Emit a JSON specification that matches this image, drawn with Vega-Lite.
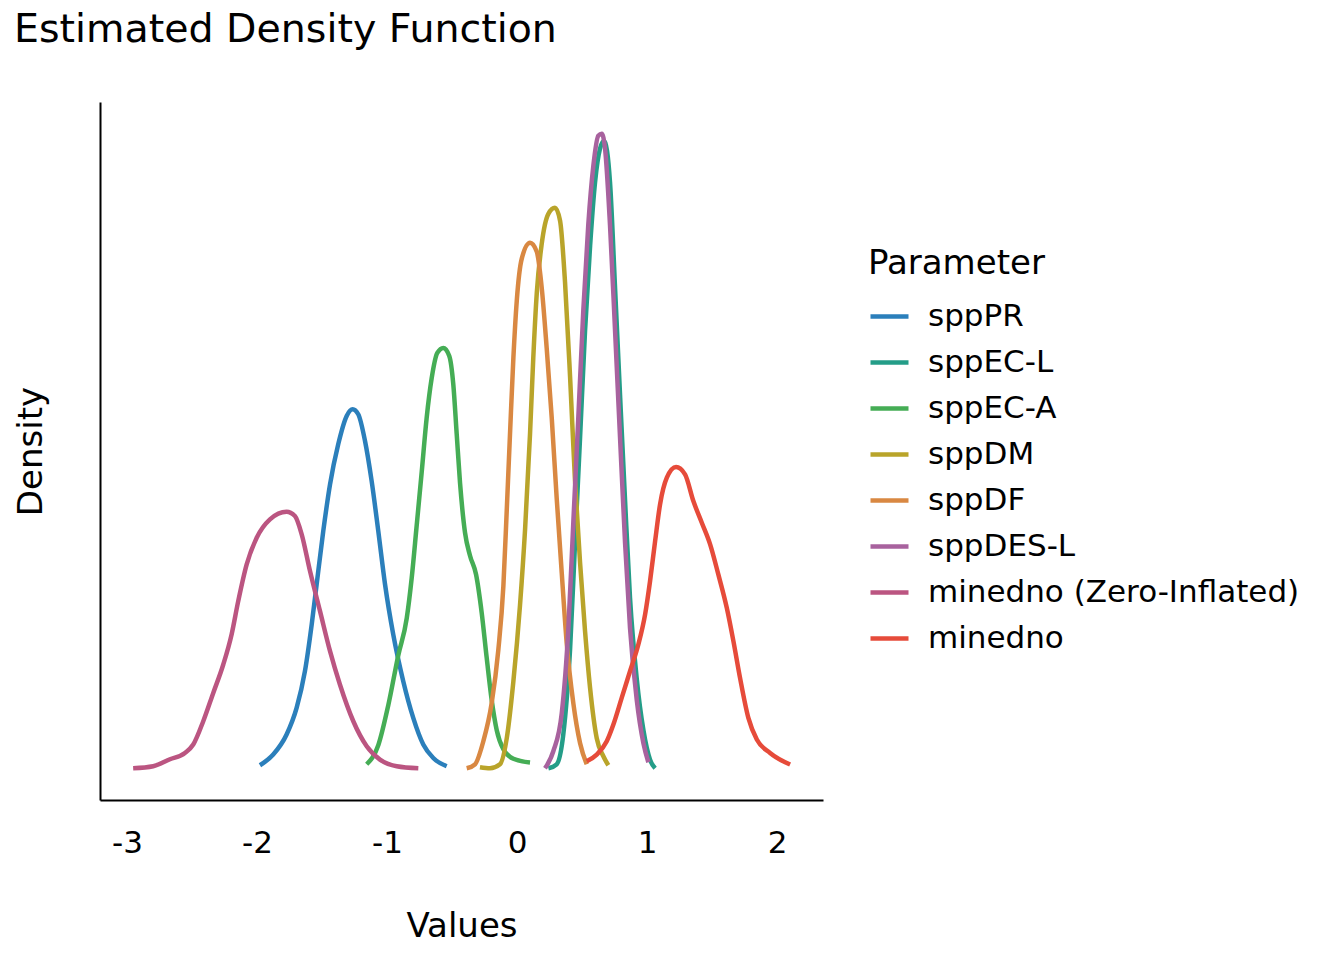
{
  "$schema": "https://vega.github.io/schema/vega-lite/v6.json",
  "width": 723,
  "height": 698,
  "autosize": "none",
  "padding": {"left": 100, "top": 102, "right": 521, "bottom": 160},
  "background": "white",
  "config": {"font": "DejaVu Sans", "view": {"stroke": null}},
  "title": {
    "text": "Estimated Density Function",
    "anchor": "start",
    "frame": "group",
    "dx": -86,
    "offset": 52,
    "fontSize": 39.5,
    "fontWeight": "normal",
    "color": "black"
  },
  "datasets": {
    "curves": [
      {"Parameter": "sppPR", "Values": -1.977, "Density": 0.03},
      {"Parameter": "sppPR", "Values": -1.875, "Density": 0.137},
      {"Parameter": "sppPR", "Values": -1.772, "Density": 0.337},
      {"Parameter": "sppPR", "Values": -1.695, "Density": 0.603},
      {"Parameter": "sppPR", "Values": -1.631, "Density": 0.97},
      {"Parameter": "sppPR", "Values": -1.579, "Density": 1.437},
      {"Parameter": "sppPR", "Values": -1.541, "Density": 1.837},
      {"Parameter": "sppPR", "Values": -1.49, "Density": 2.37},
      {"Parameter": "sppPR", "Values": -1.438, "Density": 2.837},
      {"Parameter": "sppPR", "Values": -1.375, "Density": 3.237},
      {"Parameter": "sppPR", "Values": -1.31, "Density": 3.52},
      {"Parameter": "sppPR", "Values": -1.264, "Density": 3.587},
      {"Parameter": "sppPR", "Values": -1.221, "Density": 3.537},
      {"Parameter": "sppPR", "Values": -1.169, "Density": 3.27},
      {"Parameter": "sppPR", "Values": -1.118, "Density": 2.87},
      {"Parameter": "sppPR", "Values": -1.067, "Density": 2.37},
      {"Parameter": "sppPR", "Values": -1.015, "Density": 1.837},
      {"Parameter": "sppPR", "Values": -0.952, "Density": 1.337},
      {"Parameter": "sppPR", "Values": -0.875, "Density": 0.87},
      {"Parameter": "sppPR", "Values": -0.798, "Density": 0.503},
      {"Parameter": "sppPR", "Values": -0.721, "Density": 0.237},
      {"Parameter": "sppPR", "Values": -0.644, "Density": 0.103},
      {"Parameter": "sppPR", "Values": -0.541, "Density": 0.02},

      {"Parameter": "sppEC-L", "Values": 0.241, "Density": 0.0},
      {"Parameter": "sppEC-L", "Values": 0.305, "Density": 0.04},
      {"Parameter": "sppEC-L", "Values": 0.356, "Density": 0.34},
      {"Parameter": "sppEC-L", "Values": 0.408, "Density": 1.19},
      {"Parameter": "sppEC-L", "Values": 0.446, "Density": 2.25},
      {"Parameter": "sppEC-L", "Values": 0.485, "Density": 3.31},
      {"Parameter": "sppEC-L", "Values": 0.523, "Density": 4.37},
      {"Parameter": "sppEC-L", "Values": 0.562, "Density": 5.22},
      {"Parameter": "sppEC-L", "Values": 0.6, "Density": 5.855},
      {"Parameter": "sppEC-L", "Values": 0.638, "Density": 6.19},
      {"Parameter": "sppEC-L", "Values": 0.67, "Density": 6.27},
      {"Parameter": "sppEC-L", "Values": 0.715, "Density": 5.855},
      {"Parameter": "sppEC-L", "Values": 0.754, "Density": 4.796},
      {"Parameter": "sppEC-L", "Values": 0.792, "Density": 3.735},
      {"Parameter": "sppEC-L", "Values": 0.831, "Density": 2.67},
      {"Parameter": "sppEC-L", "Values": 0.869, "Density": 1.7},
      {"Parameter": "sppEC-L", "Values": 0.921, "Density": 0.89},
      {"Parameter": "sppEC-L", "Values": 0.972, "Density": 0.38},
      {"Parameter": "sppEC-L", "Values": 1.023, "Density": 0.085},
      {"Parameter": "sppEC-L", "Values": 1.062, "Density": 0.0},

      {"Parameter": "sppEC-A", "Values": -1.156, "Density": 0.04},
      {"Parameter": "sppEC-A", "Values": -1.067, "Density": 0.23},
      {"Parameter": "sppEC-A", "Values": -0.99, "Density": 0.63},
      {"Parameter": "sppEC-A", "Values": -0.913, "Density": 1.13},
      {"Parameter": "sppEC-A", "Values": -0.848, "Density": 1.5},
      {"Parameter": "sppEC-A", "Values": -0.81, "Density": 1.9},
      {"Parameter": "sppEC-A", "Values": -0.772, "Density": 2.42},
      {"Parameter": "sppEC-A", "Values": -0.733, "Density": 2.96},
      {"Parameter": "sppEC-A", "Values": -0.695, "Density": 3.5},
      {"Parameter": "sppEC-A", "Values": -0.656, "Density": 3.9},
      {"Parameter": "sppEC-A", "Values": -0.613, "Density": 4.15},
      {"Parameter": "sppEC-A", "Values": -0.567, "Density": 4.2},
      {"Parameter": "sppEC-A", "Values": -0.521, "Density": 4.12},
      {"Parameter": "sppEC-A", "Values": -0.49, "Density": 3.834},
      {"Parameter": "sppEC-A", "Values": -0.464, "Density": 3.341},
      {"Parameter": "sppEC-A", "Values": -0.438, "Density": 2.847},
      {"Parameter": "sppEC-A", "Values": -0.4, "Density": 2.354},
      {"Parameter": "sppEC-A", "Values": -0.362, "Density": 2.126},
      {"Parameter": "sppEC-A", "Values": -0.315, "Density": 1.936},
      {"Parameter": "sppEC-A", "Values": -0.272, "Density": 1.557},
      {"Parameter": "sppEC-A", "Values": -0.233, "Density": 1.101},
      {"Parameter": "sppEC-A", "Values": -0.195, "Density": 0.683},
      {"Parameter": "sppEC-A", "Values": -0.156, "Density": 0.38},
      {"Parameter": "sppEC-A", "Values": -0.105, "Density": 0.19},
      {"Parameter": "sppEC-A", "Values": -0.028, "Density": 0.095},
      {"Parameter": "sppEC-A", "Values": 0.1, "Density": 0.057},

      {"Parameter": "sppDM", "Values": -0.285, "Density": 0.01},
      {"Parameter": "sppDM", "Values": -0.208, "Density": 0.0},
      {"Parameter": "sppDM", "Values": -0.131, "Density": 0.04},
      {"Parameter": "sppDM", "Values": -0.079, "Density": 0.3},
      {"Parameter": "sppDM", "Values": -0.028, "Density": 0.87},
      {"Parameter": "sppDM", "Values": 0.023, "Density": 1.63},
      {"Parameter": "sppDM", "Values": 0.062, "Density": 2.39},
      {"Parameter": "sppDM", "Values": 0.1, "Density": 3.34},
      {"Parameter": "sppDM", "Values": 0.125, "Density": 4.1},
      {"Parameter": "sppDM", "Values": 0.152, "Density": 4.75},
      {"Parameter": "sppDM", "Values": 0.19, "Density": 5.24},
      {"Parameter": "sppDM", "Values": 0.241, "Density": 5.54},
      {"Parameter": "sppDM", "Values": 0.292, "Density": 5.6},
      {"Parameter": "sppDM", "Values": 0.331, "Density": 5.47},
      {"Parameter": "sppDM", "Values": 0.369, "Density": 4.86},
      {"Parameter": "sppDM", "Values": 0.408, "Density": 3.91},
      {"Parameter": "sppDM", "Values": 0.446, "Density": 2.87},
      {"Parameter": "sppDM", "Values": 0.485, "Density": 2.05},
      {"Parameter": "sppDM", "Values": 0.523, "Density": 1.37},
      {"Parameter": "sppDM", "Values": 0.562, "Density": 0.8},
      {"Parameter": "sppDM", "Values": 0.613, "Density": 0.3},
      {"Parameter": "sppDM", "Values": 0.664, "Density": 0.12},
      {"Parameter": "sppDM", "Values": 0.702, "Density": 0.03},

      {"Parameter": "sppDF", "Values": -0.387, "Density": 0.0},
      {"Parameter": "sppDF", "Values": -0.323, "Density": 0.04},
      {"Parameter": "sppDF", "Values": -0.259, "Density": 0.27},
      {"Parameter": "sppDF", "Values": -0.195, "Density": 0.65},
      {"Parameter": "sppDF", "Values": -0.144, "Density": 1.18},
      {"Parameter": "sppDF", "Values": -0.105, "Density": 1.82},
      {"Parameter": "sppDF", "Values": -0.079, "Density": 2.58},
      {"Parameter": "sppDF", "Values": -0.054, "Density": 3.34},
      {"Parameter": "sppDF", "Values": -0.028, "Density": 4.1},
      {"Parameter": "sppDF", "Values": -0.002, "Density": 4.67},
      {"Parameter": "sppDF", "Values": 0.036, "Density": 5.09},
      {"Parameter": "sppDF", "Values": 0.1, "Density": 5.25},
      {"Parameter": "sppDF", "Values": 0.152, "Density": 5.16},
      {"Parameter": "sppDF", "Values": 0.19, "Density": 4.8},
      {"Parameter": "sppDF", "Values": 0.228, "Density": 4.2},
      {"Parameter": "sppDF", "Values": 0.267, "Density": 3.5},
      {"Parameter": "sppDF", "Values": 0.305, "Density": 2.7},
      {"Parameter": "sppDF", "Values": 0.344, "Density": 1.95},
      {"Parameter": "sppDF", "Values": 0.382, "Density": 1.25},
      {"Parameter": "sppDF", "Values": 0.433, "Density": 0.65},
      {"Parameter": "sppDF", "Values": 0.485, "Density": 0.25},
      {"Parameter": "sppDF", "Values": 0.536, "Density": 0.04},

      {"Parameter": "sppDES-L", "Values": 0.215, "Density": 0.0},
      {"Parameter": "sppDES-L", "Values": 0.279, "Density": 0.17},
      {"Parameter": "sppDES-L", "Values": 0.344, "Density": 0.55},
      {"Parameter": "sppDES-L", "Values": 0.395, "Density": 1.4},
      {"Parameter": "sppDES-L", "Values": 0.433, "Density": 2.46},
      {"Parameter": "sppDES-L", "Values": 0.472, "Density": 3.52},
      {"Parameter": "sppDES-L", "Values": 0.51, "Density": 4.58},
      {"Parameter": "sppDES-L", "Values": 0.548, "Density": 5.43},
      {"Parameter": "sppDES-L", "Values": 0.587, "Density": 6.02},
      {"Parameter": "sppDES-L", "Values": 0.625, "Density": 6.32},
      {"Parameter": "sppDES-L", "Values": 0.652, "Density": 6.34},
      {"Parameter": "sppDES-L", "Values": 0.677, "Density": 6.19},
      {"Parameter": "sppDES-L", "Values": 0.715, "Density": 5.43},
      {"Parameter": "sppDES-L", "Values": 0.754, "Density": 4.37},
      {"Parameter": "sppDES-L", "Values": 0.792, "Density": 3.31},
      {"Parameter": "sppDES-L", "Values": 0.831, "Density": 2.25},
      {"Parameter": "sppDES-L", "Values": 0.869, "Density": 1.4},
      {"Parameter": "sppDES-L", "Values": 0.921, "Density": 0.68},
      {"Parameter": "sppDES-L", "Values": 0.972, "Density": 0.25},
      {"Parameter": "sppDES-L", "Values": 1.01, "Density": 0.06},

      {"Parameter": "minedno (Zero-Inflated)", "Values": -2.952, "Density": 0.0},
      {"Parameter": "minedno (Zero-Inflated)", "Values": -2.798, "Density": 0.02},
      {"Parameter": "minedno (Zero-Inflated)", "Values": -2.669, "Density": 0.09},
      {"Parameter": "minedno (Zero-Inflated)", "Values": -2.554, "Density": 0.153},
      {"Parameter": "minedno (Zero-Inflated)", "Values": -2.49, "Density": 0.237},
      {"Parameter": "minedno (Zero-Inflated)", "Values": -2.413, "Density": 0.47},
      {"Parameter": "minedno (Zero-Inflated)", "Values": -2.336, "Density": 0.753},
      {"Parameter": "minedno (Zero-Inflated)", "Values": -2.259, "Density": 1.037},
      {"Parameter": "minedno (Zero-Inflated)", "Values": -2.195, "Density": 1.337},
      {"Parameter": "minedno (Zero-Inflated)", "Values": -2.144, "Density": 1.67},
      {"Parameter": "minedno (Zero-Inflated)", "Values": -2.079, "Density": 2.037},
      {"Parameter": "minedno (Zero-Inflated)", "Values": -2.002, "Density": 2.303},
      {"Parameter": "minedno (Zero-Inflated)", "Values": -1.9, "Density": 2.487},
      {"Parameter": "minedno (Zero-Inflated)", "Values": -1.772, "Density": 2.563},
      {"Parameter": "minedno (Zero-Inflated)", "Values": -1.708, "Density": 2.52},
      {"Parameter": "minedno (Zero-Inflated)", "Values": -1.656, "Density": 2.337},
      {"Parameter": "minedno (Zero-Inflated)", "Values": -1.592, "Density": 1.97},
      {"Parameter": "minedno (Zero-Inflated)", "Values": -1.515, "Density": 1.57},
      {"Parameter": "minedno (Zero-Inflated)", "Values": -1.438, "Density": 1.17},
      {"Parameter": "minedno (Zero-Inflated)", "Values": -1.362, "Density": 0.837},
      {"Parameter": "minedno (Zero-Inflated)", "Values": -1.259, "Density": 0.47},
      {"Parameter": "minedno (Zero-Inflated)", "Values": -1.156, "Density": 0.22},
      {"Parameter": "minedno (Zero-Inflated)", "Values": -1.054, "Density": 0.087},
      {"Parameter": "minedno (Zero-Inflated)", "Values": -0.925, "Density": 0.02},
      {"Parameter": "minedno (Zero-Inflated)", "Values": -0.759, "Density": 0.0},

      {"Parameter": "minedno", "Values": 0.536, "Density": 0.07},
      {"Parameter": "minedno", "Values": 0.613, "Density": 0.137},
      {"Parameter": "minedno", "Values": 0.69, "Density": 0.27},
      {"Parameter": "minedno", "Values": 0.741, "Density": 0.437},
      {"Parameter": "minedno", "Values": 0.805, "Density": 0.703},
      {"Parameter": "minedno", "Values": 0.869, "Density": 0.97},
      {"Parameter": "minedno", "Values": 0.933, "Density": 1.237},
      {"Parameter": "minedno", "Values": 0.985, "Density": 1.537},
      {"Parameter": "minedno", "Values": 1.023, "Density": 1.87},
      {"Parameter": "minedno", "Values": 1.062, "Density": 2.27},
      {"Parameter": "minedno", "Values": 1.1, "Density": 2.637},
      {"Parameter": "minedno", "Values": 1.152, "Density": 2.903},
      {"Parameter": "minedno", "Values": 1.223, "Density": 3.01},
      {"Parameter": "minedno", "Values": 1.292, "Density": 2.937},
      {"Parameter": "minedno", "Values": 1.356, "Density": 2.67},
      {"Parameter": "minedno", "Values": 1.421, "Density": 2.453},
      {"Parameter": "minedno", "Values": 1.485, "Density": 2.237},
      {"Parameter": "minedno", "Values": 1.548, "Density": 1.937},
      {"Parameter": "minedno", "Values": 1.613, "Density": 1.603},
      {"Parameter": "minedno", "Values": 1.664, "Density": 1.27},
      {"Parameter": "minedno", "Values": 1.715, "Density": 0.903},
      {"Parameter": "minedno", "Values": 1.779, "Density": 0.503},
      {"Parameter": "minedno", "Values": 1.844, "Density": 0.287},
      {"Parameter": "minedno", "Values": 1.946, "Density": 0.153},
      {"Parameter": "minedno", "Values": 2.1, "Density": 0.037}
    ]
  },
  "data": {"name": "curves"},
  "mark": {"type": "line", "strokeWidth": 4.5, "interpolate": "monotone"},
  "encoding": {
    "x": {
      "field": "Values",
      "type": "quantitative",
      "scale": {"domain": [-3.207, 2.353], "nice": false, "zero": false},
      "axis": {
        "values": [-3, -2, -1, 0, 1, 2],
        "labelExpr": "'' + datum.value",
        "grid": false,
        "ticks": false,
        "domainColor": "black",
        "domainWidth": 2,
        "labelFontSize": 31,
        "labelColor": "black",
        "labelPadding": 28,
        "titleFontSize": 34,
        "titleFontWeight": "normal",
        "titleColor": "black",
        "titlePadding": 51
      }
    },
    "y": {
      "field": "Density",
      "type": "quantitative",
      "scale": {"domain": [-0.317, 6.657], "nice": false, "zero": false},
      "axis": {
        "labels": false,
        "ticks": false,
        "grid": false,
        "domainColor": "black",
        "domainWidth": 2,
        "titleFontSize": 34,
        "titleFontWeight": "normal",
        "titleColor": "black",
        "titlePadding": 52
      }
    },
    "color": {
      "field": "Parameter",
      "type": "nominal",
      "scale": {
        "domain": ["sppPR", "sppEC-L", "sppEC-A", "sppDM", "sppDF", "sppDES-L", "minedno (Zero-Inflated)", "minedno"],
        "range": ["#2b7fbb", "#249d88", "#45ad55", "#b9a42a", "#d98842", "#a8629e", "#bb5581", "#e64b3a"]
      },
      "legend": {
        "orient": "none",
        "legendX": 768,
        "legendY": 145,
        "padding": 0,
        "titleFontSize": 34,
        "titleFontWeight": "normal",
        "titleColor": "black",
        "titlePadding": 14,
        "labelFontSize": 31,
        "labelColor": "black",
        "labelOffset": 17,
        "symbolType": "stroke",
        "symbolSize": 1444,
        "symbolStrokeWidth": 4.5,
        "rowPadding": 9,
        "labelLimit": 500
      }
    }
  }
}
